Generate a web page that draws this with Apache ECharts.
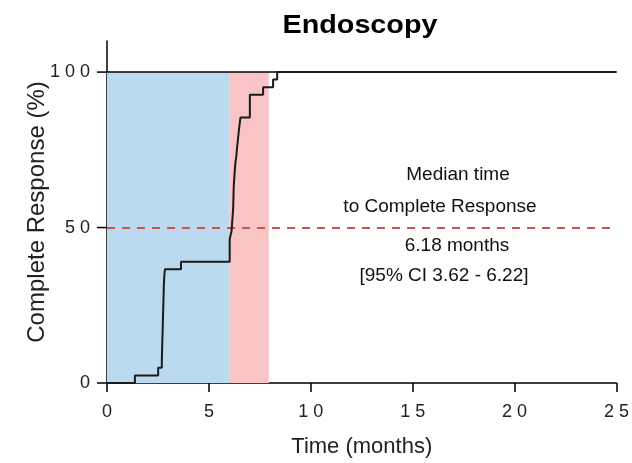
<!DOCTYPE html>
<html lang="en">
<head>
    <meta charset="UTF-8">
    <title>Endoscopy</title>
    <script src="https://cdn.jsdelivr.net/npm/echarts@6/dist/echarts.min.js"></script>
    <style>
        html, body { margin: 0; padding: 0; background: #fff; }
    </style>
</head>
<body>
<div id="main" style="width: 632px;height:463px;"></div>
<script>
    // time to complete response (months) and cumulative % at each step
    var times = [0, 1.37, 2.51, 2.69, 2.71, 2.73, 2.75, 2.77, 2.79, 2.81, 2.84, 3.63, 6.02, 6.11, 6.19, 6.22, 6.27, 6.30, 6.35, 6.38, 6.42, 6.46, 6.50, 6.55, 7.01, 7.66, 8.15, 8.35, 25];
    var pct   = [0, 2.4, 4.9, 7.3, 12.2, 17.1, 22.0, 26.8, 31.7, 34.1, 36.6, 39.0, 46.3, 48.8, 56.1, 63.4, 68.3, 70.7, 73.2, 75.6, 78.0, 80.5, 82.9, 85.4, 92.7, 95.1, 97.6, 100, 100];

    var xTicks = [0, 5, 10, 15, 20, 25];
    var yTicks = [0, 50, 100];

    // shaded windows (months)
    var blueBand = [0, 6.0];
    var pinkBand = [6.0, 7.94];

    var medianLevel = 50;
    var noteLines = ['Median time', 'to Complete Response', '6.18 months', '[95% CI 3.62 - 6.22]'];

    var spaced = function (v) { return String(v).split('').join(' '); };

    var myChart = echarts.init(document.getElementById('main'));
    var option = {
        animation: false,
        grid: { left: 107, right: 15, top: 41, bottom: 78 },
        xAxis: {
            type: 'value',
            min: 0,
            max: 25,
            interval: 5,
            name: 'Time (months)',
            nameLocation: 'middle',
            nameGap: 53,
            nameTextStyle: { fontFamily: 'Liberation Sans', fontSize: 22, color: '#222' },
            axisLine: { lineStyle: { color: '#000', width: 1.5 } },
            axisTick: { length: 9, lineStyle: { color: '#000', width: 1.5 } },
            axisLabel: {
                margin: 20,
                fontFamily: 'Liberation Sans',
                fontSize: 18,
                color: '#222',
                formatter: function (v) { return xTicks.indexOf(v) >= 0 ? spaced(v) : ''; }
            },
            splitLine: { show: false }
        },
        yAxis: {
            type: 'value',
            min: 0,
            max: 110,
            interval: 50,
            name: 'Complete Response (%)',
            nameLocation: 'middle',
            nameGap: 58,
            nameMoveOverlap: false,
            nameTextStyle: { fontFamily: 'Liberation Sans', fontSize: 24, color: '#222' },
            axisLine: { show: true, lineStyle: { color: '#000', width: 1.5 } },
            // ticks drawn by the 'yticks' series so that the top of the axis (110) has none
            axisTick: { show: false },
            axisLabel: {
                margin: 17,
                fontFamily: 'Liberation Sans',
                fontSize: 18,
                color: '#222',
                formatter: function (v) { return yTicks.indexOf(v) >= 0 ? spaced(v) : ''; }
            },
            splitLine: { show: false }
        },
        graphic: [{
            type: 'text',
            x: 360,
            y: 26,
            scaleX: 1.15,
            style: {
                text: 'Endoscopy',
                fontFamily: 'Liberation Sans',
                fontWeight: 'bold',
                fontSize: 25,
                fill: '#000',
                align: 'center',
                verticalAlign: 'middle'
            }
        }].concat(noteLines.map(function (t, i) {
            var pos = [[458, 175], [440, 207], [457, 246], [444, 276]][i];
            return {
                type: 'text',
                x: pos[0],
                y: pos[1],
                style: {
                    text: t,
                    fontFamily: 'Liberation Sans',
                    fontSize: 19,
                    fill: '#111',
                    align: 'center',
                    verticalAlign: 'middle'
                }
            };
        })),
        series: [
            {
                name: 'CR',
                type: 'line',
                step: 'end',
                symbol: 'none',
                data: times.map(function (t, i) { return [t, pct[i]]; }),
                lineStyle: { color: '#1a1a1a', width: 2 },
                z: 5,
                markArea: {
                    silent: true,
                    data: [
                        [{ xAxis: blueBand[0], yAxis: 0, itemStyle: { color: '#bcdaef' } }, { xAxis: blueBand[1], yAxis: 100 }],
                        [{ xAxis: pinkBand[0], yAxis: 0, itemStyle: { color: '#f8c4c6' } }, { xAxis: pinkBand[1], yAxis: 100 }]
                    ]
                },
                markLine: {
                    silent: true,
                    symbol: 'none',
                    label: { show: false },
                    data: [
                        { yAxis: medianLevel, lineStyle: { color: '#c9544c', type: [8, 7], width: 2 } },
                        { yAxis: 100, lineStyle: { color: '#000', type: 'solid', width: 1.5 } }
                    ]
                }
            },
            {
                name: 'yticks',
                type: 'custom',
                silent: true,
                clip: false,
                data: yTicks.map(function (v) { return [0, v]; }),
                renderItem: function (params, api) {
                    var p = api.coord([api.value(0), api.value(1)]);
                    return {
                        type: 'line',
                        shape: { x1: p[0] - 10, y1: p[1], x2: p[0], y2: p[1] },
                        style: { stroke: '#000', lineWidth: 1.5 }
                    };
                },
                z: 6
            }
        ]
    };
    myChart.setOption(option);
</script>
</body>
</html>
